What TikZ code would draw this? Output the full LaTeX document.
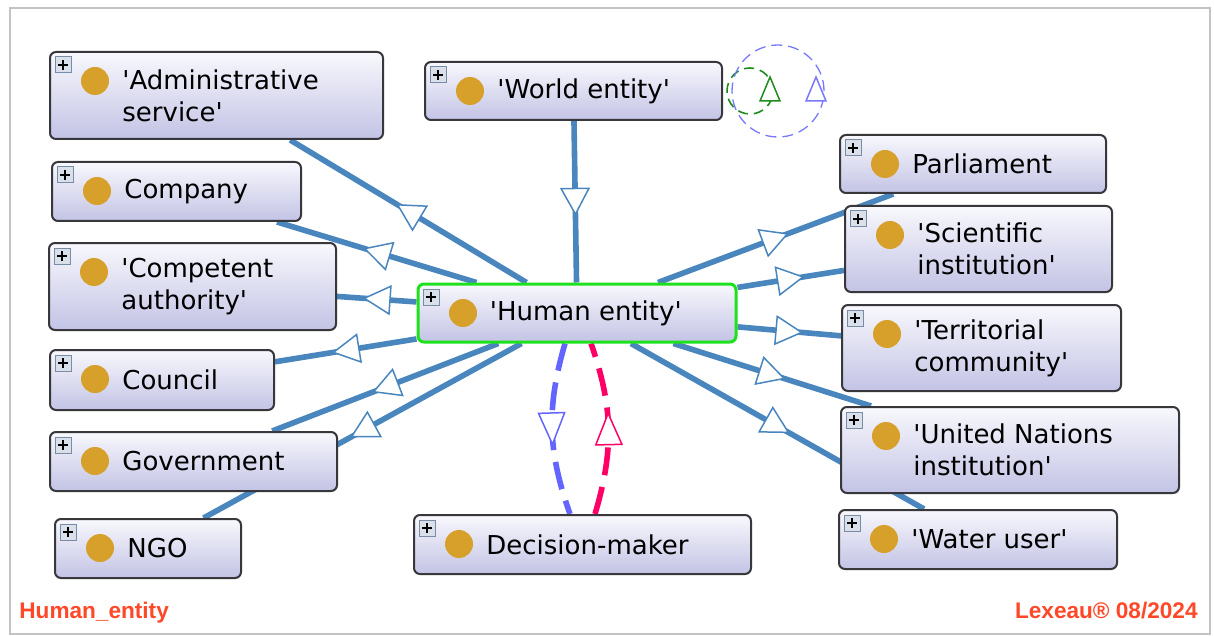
\documentclass[tikz,border=0pt]{standalone}
\usepackage{fontspec}
\newfontfamily\boxfont{DejaVu Sans}
\newfontfamily\footfont{Liberation Sans}
\usetikzlibrary{arrows.meta,decorations.markings}
\pgfdeclarelayer{background}
\pgfdeclarelayer{canvas}
\pgfsetlayers{canvas,background,main}
\definecolor{edgeblue}{RGB}{74,134,190}
\definecolor{gold}{RGB}{214,160,42}
\definecolor{boxtop}{RGB}{248,248,253}
\definecolor{boxbot}{RGB}{195,195,229}
\definecolor{boxline}{RGB}{55,55,60}
\definecolor{selgreen}{RGB}{30,225,30}
\definecolor{footred}{RGB}{255,72,40}
\definecolor{dmblue}{RGB}{100,100,255}
\definecolor{dmpink}{RGB}{255,0,100}
\definecolor{loopgreen}{RGB}{30,140,30}
\definecolor{loopblue}{RGB}{120,120,255}
\definecolor{plusfill}{RGB}{218,224,234}
\definecolor{plusline}{RGB}{120,140,165}
\definecolor{framegray}{RGB}{195,195,195}
\newcommand\obox[6][cls]{%
  \node[#1, minimum width=#4*0.5pt, minimum height=#5*0.5pt] (#2) at (#3) {};
  \node[lbltext, anchor=west] (#2-t) at ([xshift=36.5pt]#2.west) {#6};}
\begin{document}
\begin{tikzpicture}[x=0.5pt,y=-0.5pt,
  cls/.style={rectangle, rounded corners=3pt, draw=boxline, line width=1pt,
    top color=boxtop, bottom color=boxbot, inner sep=0pt,
    path picture={
      \fill[gold] ([shift={(45,29)}]path picture bounding box.north west) circle (7pt);
      \draw[sharp corners, plusline, fill=plusfill, line width=0.5pt] ([shift={(5,5)}]path picture bounding box.north west) rectangle ([shift={(21,21)}]path picture bounding box.north west);
      \draw[sharp corners, black, line width=1pt] ([shift={(8,13)}]path picture bounding box.north west) -- ([shift={(18,13)}]path picture bounding box.north west)
         ([shift={(13,8)}]path picture bounding box.north west) -- ([shift={(13,18)}]path picture bounding box.north west);
    }},
  sel/.style={cls, draw=selgreen, line width=1.5pt},
  lbltext/.style={inner sep=0pt, align=left, font=\boxfont\fontsize{13pt}{16pt}\selectfont, text=black},
  sub/.style={draw=edgeblue, line width=2.8pt, postaction={decorate},
    decoration={markings, mark=at position 0.5 with {\arrow[solid, xshift=7pt]{Triangle[open, fill=white, length=14pt, width=15pt, line width=0.75pt]}}}},
  dmedge/.style={line width=2.8pt, dash pattern=on 14pt off 6pt, postaction={decorate},
    decoration={markings, mark=at position 0.5 with {\arrow[solid, xshift=8.5pt]{Triangle[open, fill=white, length=17pt, width=14pt, line width=0.75pt]}}}},
  looptri/.style={fill=white, line width=0.75pt},
  footer/.style={text=footred, font=\footfont\bfseries\fontsize{11.3pt}{13pt}\selectfont, inner sep=0pt}
]
\useasboundingbox (0,0) rectangle (1214,636);
\begin{pgfonlayer}{canvas}
\fill[white] (0,0) rectangle (1214,636);
\draw[framegray, line width=1.2pt] (10,8) rectangle (1210,634);
\end{pgfonlayer}

% nodes
\obox{admin}{216.5,95.5}{333}{87}{'Administrative\\service'}
\obox{world}{573.5,91}{297}{58}{'World entity'}
\obox{company}{176.5,191.5}{249}{59}{Company}
\obox{competent}{192.5,286.5}{287}{87}{'Competent\\authority'}
\obox[sel]{he}{577,313}{318}{58}{'Human entity'}
\obox{council}{162,380}{224}{60}{Council}
\obox{gov}{193.5,461.5}{287}{59}{Government}
\obox{ngo}{148,548.5}{186}{59}{NGO}
\obox{dm}{582.5,544.5}{337}{59}{Decision-maker}
\obox{parl}{973,164}{266}{58}{Parliament}
\obox{sci}{978.5,249}{267}{86}{'Scientific\\institution'}
\obox{terr}{981.5,348}{279}{86}{'Territorial\\community'}
\obox{un}{1010,450}{338}{86}{'United Nations\\institution'}
\obox{water}{978,539.5}{278}{59}{'Water user'}

% edges
\begin{pgfonlayer}{background}
\draw[sub] (world) -- (he);
\draw[sub] (he) -- (admin);
\draw[sub] (he) -- (company);
\draw[sub] (he) -- (competent);
\draw[sub] (he) -- (council);
\draw[sub] (he) -- (gov);
\draw[sub] (he) -- (ngo);
\draw[sub] (he) -- (parl);
\draw[sub] (he) -- (sci);
\draw[sub] (he) -- (terr);
\draw[sub] (he) -- (un);
\draw[sub] (he) -- (water);
\draw[dmedge, dmblue] ([xshift=-6pt]he.south) to[bend right=18] ([xshift=-6.25pt]dm.north);
\draw[dmedge, dmpink] ([xshift=6.25pt]dm.north) to[bend right=18] ([xshift=7pt]he.south);
\draw[loopgreen, line width=0.8pt, dash pattern=on 5pt off 3pt] ([xshift=13.5pt]world.east) circle[radius=11.5pt];
\draw[loopblue, line width=0.65pt, dash pattern=on 5.5pt off 3pt] ([xshift=27.5pt]world.east) circle[radius=23pt];
\end{pgfonlayer}
\draw[loopgreen, looptri] ([shift={(47,-14)}]world.east) -- ([shift={(37,10)}]world.east) -- ([shift={(57,10)}]world.east) -- cycle;
\draw[loopblue, looptri] ([shift={(93,-14)}]world.east) -- ([shift={(83,10)}]world.east) -- ([shift={(103,10)}]world.east) -- cycle;

% footer
\node[footer, anchor=base west] (lbl) at (19,618) {Human\_entity};
\node[footer, anchor=base east] (copy) at (1198,618) {Lexeau® 08/2024};
\end{tikzpicture}
\end{document}
